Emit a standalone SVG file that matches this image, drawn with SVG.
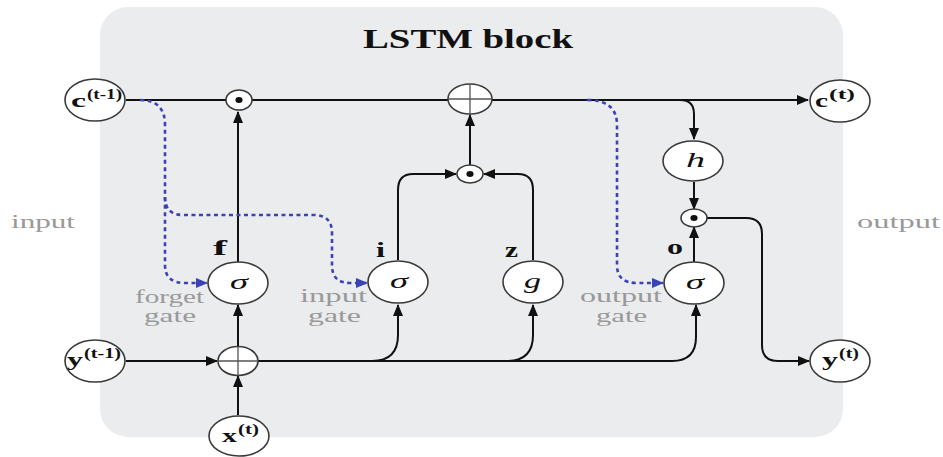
<svg xmlns="http://www.w3.org/2000/svg" width="943" height="457" viewBox="0 0 943 457">
<style>
.bg{fill:#ebecee}
.nd{fill:#ffffff;stroke:#3a3a3a;stroke-width:1.6}
.cx{stroke:#555;stroke-width:1.3;fill:none}
.ln{fill:none;stroke:#111;stroke-width:2}
.bl{fill:none;stroke:#3a43b4;stroke-width:2.6;stroke-dasharray:4 3.5}
.t{font-family:"Liberation Serif","DejaVu Serif",serif;fill:#111}
.b{font-weight:bold}
.it{font-style:italic}
.g{font-family:"Liberation Serif","DejaVu Serif",serif;fill:#999;font-size:19px}
</style>
<defs>
<marker id="ah" markerUnits="userSpaceOnUse" markerWidth="12" markerHeight="10" refX="11" refY="5" orient="auto">
<path d="M0,0 L12,5 L0,10 z" fill="#111"/>
</marker>
<marker id="bh" markerUnits="userSpaceOnUse" markerWidth="12" markerHeight="10" refX="11" refY="5" orient="auto">
<path d="M0,0 L12,5 L0,10 z" fill="#3a43b4"/>
</marker>
</defs>
<rect class="bg" x="100" y="7" width="743" height="430" rx="28"/>
<text class="t b" x="363" y="48" font-size="28" textLength="210" lengthAdjust="spacingAndGlyphs">LSTM block</text>
<text class="g" x="11" y="228" textLength="64" lengthAdjust="spacingAndGlyphs">input</text>
<text class="g" x="857" y="228" textLength="83" lengthAdjust="spacingAndGlyphs">output</text>

<g id="connectors">
<path class="ln" d="M126 100 H808" marker-end="url(#ah)"/>
<path class="ln" d="M238 262 V112" marker-end="url(#ah)"/>
<path class="ln" d="M238 346 V305" marker-end="url(#ah)"/>
<path class="ln" d="M238 415 V376" marker-end="url(#ah)"/>
<path class="ln" d="M126 361 H217" marker-end="url(#ah)"/>
<path class="ln" d="M258 361 H672 Q696 361 696 337 V305" marker-end="url(#ah)"/>
<path class="ln" d="M372 361 Q398 361 398 335 V305" marker-end="url(#ah)"/>
<path class="ln" d="M507 361 Q533 361 533 335 V305" marker-end="url(#ah)"/>
<path class="ln" d="M398 260 V190 Q398 174 413 174 H456" marker-end="url(#ah)"/>
<path class="ln" d="M533 260 V190 Q533 174 518 174 H484" marker-end="url(#ah)"/>
<path class="ln" d="M470 165 V115" marker-end="url(#ah)"/>
<path class="ln" d="M680 100 Q694 100 694 114 V139" marker-end="url(#ah)"/>
<path class="ln" d="M694 182 V209" marker-end="url(#ah)"/>
<path class="ln" d="M694 262 V227" marker-end="url(#ah)"/>
<path class="ln" d="M706 218 H746 Q762 218 762 234 V345 Q762 361 778 361 H809" marker-end="url(#ah)"/>
<path class="bl" d="M140 100 Q165 100 165 125 V265 Q165 283 185 283 H207" marker-end="url(#bh)"/>
<path class="bl" d="M165 197 Q165 215 183 215 H314 Q332 215 332 233 V265 Q332 283 350 283 H367" marker-end="url(#bh)"/>
<path class="bl" d="M587 100 Q617 100 617 125 V265 Q617 283 637 283 H663" marker-end="url(#bh)"/>
</g>

<g id="c_prev">
<ellipse class="nd" cx="95" cy="100" rx="30" ry="21"/>
<text class="t b" x="71" y="107" font-size="19" textLength="15" lengthAdjust="spacingAndGlyphs">c</text>
<text class="t b" x="87" y="99" font-size="14" textLength="35" lengthAdjust="spacingAndGlyphs">(t-1)</text>
</g>
<g id="y_prev">
<ellipse class="nd" cx="95" cy="361" rx="30" ry="21"/>
<text class="t b" x="67" y="366" font-size="19" textLength="16" lengthAdjust="spacingAndGlyphs">y</text>
<text class="t b" x="84" y="358" font-size="14" textLength="37" lengthAdjust="spacingAndGlyphs">(t-1)</text>
</g>
<g id="x_t">
<ellipse class="nd" cx="239" cy="436" rx="30" ry="20"/>
<text class="t b" x="222" y="442" font-size="19" textLength="15" lengthAdjust="spacingAndGlyphs">x</text>
<text class="t b" x="238" y="434" font-size="14" textLength="21" lengthAdjust="spacingAndGlyphs">(t)</text>
</g>
<g id="c_t">
<ellipse class="nd" cx="840" cy="101" rx="30" ry="21"/>
<text class="t b" x="815" y="107" font-size="19" textLength="13" lengthAdjust="spacingAndGlyphs">c</text>
<text class="t b" x="829" y="99" font-size="14" textLength="26" lengthAdjust="spacingAndGlyphs">(t)</text>
</g>
<g id="y_t">
<ellipse class="nd" cx="840" cy="361" rx="30" ry="21"/>
<text class="t b" x="822" y="366" font-size="19" textLength="16" lengthAdjust="spacingAndGlyphs">y</text>
<text class="t b" x="839" y="358" font-size="14" textLength="20" lengthAdjust="spacingAndGlyphs">(t)</text>
</g>
<g id="mul_forget">
<ellipse class="nd" cx="239" cy="100" rx="13" ry="10"/>
<ellipse cx="239" cy="100" rx="3.6" ry="3" fill="#111"/>
</g>
<g id="add_cell">
<ellipse class="nd" cx="470" cy="99" rx="22" ry="15"/>
<path class="cx" d="M448 99 H492 M470 84 V114"/>
</g>
<g id="mul_input">
<ellipse class="nd" cx="470" cy="174" rx="13" ry="9"/>
<ellipse cx="470" cy="174" rx="3.6" ry="3" fill="#111"/>
</g>
<g id="add_in">
<ellipse class="nd" cx="238" cy="361" rx="20" ry="14.5"/>
<path class="cx" d="M218 361 H258 M238 346.5 V375.5"/>
</g>
<g id="forget_gate">
<ellipse class="nd" cx="238" cy="283" rx="30" ry="21"/>
<text class="t it" x="230" y="289" font-size="22" textLength="18" lengthAdjust="spacingAndGlyphs">σ</text>
<text class="t b" x="213" y="255" font-size="20" textLength="14" lengthAdjust="spacingAndGlyphs">f</text>
<text class="g" x="135" y="303" textLength="69" lengthAdjust="spacingAndGlyphs">forget</text>
<text class="g" x="144" y="322" textLength="52" lengthAdjust="spacingAndGlyphs">gate</text>
</g>
<g id="input_gate">
<ellipse class="nd" cx="398" cy="282" rx="30" ry="21"/>
<text class="t it" x="390" y="288" font-size="22" textLength="18" lengthAdjust="spacingAndGlyphs">σ</text>
<text class="t b" x="376" y="257" font-size="20" textLength="9" lengthAdjust="spacingAndGlyphs">i</text>
<text class="g" x="300" y="302" textLength="67" lengthAdjust="spacingAndGlyphs">input</text>
<text class="g" x="308" y="322" textLength="53" lengthAdjust="spacingAndGlyphs">gate</text>
</g>
<g id="cell_input">
<ellipse class="nd" cx="533" cy="282" rx="30" ry="21"/>
<text class="t it" x="524" y="288" font-size="22" textLength="17" lengthAdjust="spacingAndGlyphs">g</text>
<text class="t b" x="505" y="257" font-size="20" textLength="13" lengthAdjust="spacingAndGlyphs">z</text>
</g>
<g id="output_gate">
<ellipse class="nd" cx="694" cy="283" rx="30" ry="21"/>
<text class="t it" x="686" y="289" font-size="22" textLength="18" lengthAdjust="spacingAndGlyphs">σ</text>
<text class="t b" x="667" y="254" font-size="20" textLength="16" lengthAdjust="spacingAndGlyphs">o</text>
<text class="g" x="580" y="302" textLength="82" lengthAdjust="spacingAndGlyphs">output</text>
<text class="g" x="596" y="322" textLength="51" lengthAdjust="spacingAndGlyphs">gate</text>
</g>
<g id="h_node">
<ellipse class="nd" cx="693" cy="161" rx="30" ry="20"/>
<text class="t it" x="686" y="167" font-size="22" textLength="19" lengthAdjust="spacingAndGlyphs">h</text>
</g>
<g id="mul_output">
<ellipse class="nd" cx="694" cy="218" rx="13" ry="9"/>
<ellipse cx="694" cy="218" rx="3.6" ry="3" fill="#111"/>
</g>
</svg>
